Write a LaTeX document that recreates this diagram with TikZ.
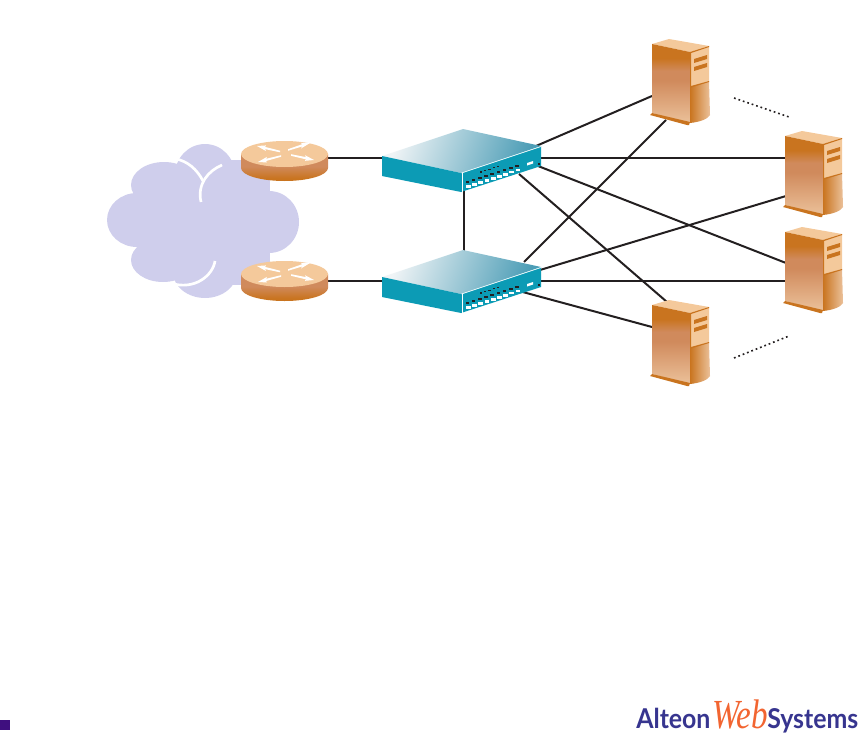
\documentclass[tikz,border=0pt]{standalone}
\usepackage{fontspec}
\setmainfont{Lato}
\newfontfamily\webfont{Liberation Serif}
\definecolor{teal1}{HTML}{0C9BB5}
\definecolor{tealdark}{HTML}{4C9DB6}
\definecolor{paleface}{HTML}{F0F4F6}
\definecolor{cloudc}{HTML}{CFCEEC}
\definecolor{orangeD}{HTML}{C9741F}
\definecolor{orangeM}{HTML}{D08A5C}
\definecolor{orangeL}{HTML}{F4C99B}
\definecolor{orangeP}{HTML}{EBC19A}
\definecolor{linec}{HTML}{231F20}
\definecolor{logoblue}{HTML}{37358F}
\definecolor{logored}{HTML}{F26531}
\definecolor{sqc}{HTML}{3F0F7F}
\pgfdeclareverticalshading{srvshade}{100bp}{color(0bp)=(orangeP); color(25bp)=(orangeP); color(52bp)=(orangeM); color(58bp)=(orangeM); color(66bp)=(orangeD); color(100bp)=(orangeD)}
\pgfdeclareverticalshading{rtrshade}{100bp}{color(0bp)=(orangeD); color(25bp)=(orangeD); color(30bp)=(orangeD); color(52bp)=(orangeM); color(100bp)=(orangeM)}
\tikzset{
  link/.style={draw=linec,line width=1.5pt},
  dots/.style={draw=linec,line width=1.2pt,dash pattern=on 1.3pt off 2.2pt},
  cloudlobe/.style={fill=cloudc,draw=none},
  cloudline/.style={draw=white,line width=2pt,line cap=butt},
  logotext/.style={inner sep=0pt,anchor=base west,text=logoblue,font=\fontsize{20.5}{20}\selectfont\bfseries},
}
\newcommand{\switchart}[1]{%
 \begin{scope}[shift={(0,#1)}]
  \shade[left color=paleface,right color=tealdark,shading angle=70]
     (382,156) -- (463,129) -- (541,146) -- (461,173) -- cycle;
  \fill[teal1] (382,156) -- (461,173) -- (461,192) -- (382,176) -- cycle;
  \fill[teal1] (461,173) -- (541,146) -- (541,166) -- (461,192) -- cycle;
  \draw[white,line width=.5pt] (461.5,173) -- (541,146.5);
  \draw[white,line width=.5pt] (462,173) -- (462,192);
  \foreach \i in {0,...,8}{
    \fill[white] ({466+6.2*\i},{187.8-2.05*\i}) rectangle +(4.8,-2.8);
    \fill[linec] ({465.5+6.2*\i},{183.4-2.05*\i}) rectangle +(3.6,-2.2);
  }
  \foreach \i in {0,...,4}{
    \fill[linec] ({480+4.2*\i},{172.5-1.4*\i}) rectangle +(2.2,-1.2);
  }
  \fill[white] (527,165.5) -- (533,163.5) -- (533,161) -- (527,163) -- cycle;
  \fill[linec] (538,165.2) rectangle +(2.4,-2.4);
 \end{scope}}
\newcommand{\serverart}[2]{%
 \begin{scope}[shift={(#1,#2)}]
  \fill[orangeL] (652,44) -- (669,39) -- (709,46) -- (690,52) -- cycle;
  \shade[shading=srvshade] (652,44) -- (690,52) -- (690,123) -- (652,113) -- cycle;
  \fill[orangeD] (650,115) -- (652,113) -- (690,122) -- (689,125) -- (687,125) -- cycle;
  \shade[left color=orangeD,right color=orangeP] (690,87) -- (709,81) -- (710,115) .. controls (708,119) and (700,122) .. (690,123) -- cycle;
  \fill[orangeL] (690,52) -- (709,46) -- (709,81) -- (690,87) -- cycle;
  \fill[orangeD] (690,52) -- (709,46) -- (709,47) -- (691,53) -- (691,87) -- (690,87) -- cycle;
  \fill[orangeD] (691,86) -- (709,81) -- (709,82) -- (691,87.5) -- cycle;
  \fill[orangeD] (694,59) -- (707,55) -- (707,59) -- (694,63) -- cycle;
  \fill[orangeD] (694,67) -- (707,63) -- (707,67) -- (694,71) -- cycle;
 \end{scope}}
\newcommand{\routerart}[1]{%
 \begin{scope}[shift={(0,#1)}]
  \shade[shading=rtrshade] (241,154) -- (241,168) arc[start angle=180,end angle=0,x radius=43.5,y radius=13] -- (328,154) -- cycle;
  \fill[orangeL] (284.5,154) ellipse[x radius=43.5,y radius=13];
  \foreach \hx/\hy/\tx/\ty/\ax/\ay in {
    257/146/280/151.5/1/0.25,
    310/143/288/150/-1/0.3,
    258/162/281/156/1/-0.26,
    314/160/291/155/-1/-0.22}{
    \fill[white] (\hx,\hy) -- ({\hx+\ax*9},{\hy+\ay*9-2.8}) -- ({\hx+\ax*8},{\hy+\ay*8-1.1})
      -- (\tx,{\ty-.8}) -- (\tx,{\ty+.8}) -- ({\hx+\ax*8},{\hy+\ay*8+1.1}) -- ({\hx+\ax*9},{\hy+\ay*9+2.8}) -- cycle;
  }
 \end{scope}}
\begin{document}
\begin{tikzpicture}[x=.75pt,y=-.75pt]
\useasboundingbox (0,0) rectangle (859,735);
% named device anchors
\coordinate (r1) at (328,158);
\coordinate (r2) at (328,281);
\coordinate (s1l) at (382,158);
\coordinate (s2l) at (382,281);
\coordinate (s1b) at (464,190);
\coordinate (s2t) at (464,252);
\coordinate (s1a) at (536,146);
\coordinate (s1c) at (540,158);
\coordinate (s1d) at (538,166);
\coordinate (s1e) at (519,174);
\coordinate (s2a) at (524,262);
\coordinate (s2c) at (540,270);
\coordinate (s2d) at (540,281);
\coordinate (s2e) at (519,291);
\coordinate (h1a) at (652,96);
\coordinate (h1b) at (666,120);
\coordinate (h2a) at (786,158);
\coordinate (h2b) at (786,196);
\coordinate (h3a) at (786,263);
\coordinate (h3b) at (786,281);
\coordinate (h4a) at (667,302);
\coordinate (h4b) at (652,327);
\coordinate (d1a) at (734,98);
\coordinate (d1b) at (789,117);
\coordinate (d2a) at (734,358);
\coordinate (d2b) at (789,336);
% cloud
\begin{scope}
 \fill[cloudlobe] (205,175) ellipse[x radius=30,y radius=31];
 \fill[cloudlobe] (164,185) ellipse[x radius=33,y radius=23];
 \fill[cloudlobe] (137,220) ellipse[x radius=30,y radius=27];
 \fill[cloudlobe] (163,260) ellipse[x radius=32,y radius=22];
 \fill[cloudlobe] (205,272) ellipse[x radius=32,y radius=26];
 \fill[cloudlobe] (269,222) ellipse[x radius=30,y radius=31];
 \fill[cloudlobe] (150,190) rectangle (265,265);
 \fill[cloudlobe] (222,160) rectangle (270,285);
\end{scope}
\draw[cloudline] (176,159) .. controls (187,161) and (197,169) .. (203,181);
\draw[cloudline] (222,165) .. controls (208,171) and (197,184) .. (201,202);
\draw[cloudline] (215,261) .. controls (213,275) and (195,291) .. (170,283);
% connectors
\draw[link] (r1) -- (s1l);
\draw[link] (r2) -- (s2l);
\draw[link] (s1b) -- (s2t);
\draw[link] (s1a) -- (h1a);
\draw[link] (s1c) -- (h2a);
\draw[link] (s1d) -- (h3a);
\draw[link] (s1e) -- (h4a);
\draw[link] (s2a) -- (h1b);
\draw[link] (s2c) -- (h2b);
\draw[link] (s2d) -- (h3b);
\draw[link] (s2e) -- (h4b);
\draw[dots] (d1a) -- (d1b);
\draw[dots] (d2a) -- (d2b);
% devices
\routerart{0}
\routerart{120}
\switchart{0}
\switchart{121}
\serverart{0}{0}
\serverart{133}{92}
\serverart{133}{188}
\serverart{0}{261}
% footer
\fill[sqc] (0,720) rectangle (10,730);
\node[logotext] (alteon) at (636,728) {\scalebox{.91}[1]{Alteon}};
\node[logotext,text=logored,anchor=base west,font=\fontsize{31}{31}\selectfont\webfont\itshape] (web) at (712,728) {\scalebox{.8}[1]{Web}};
\node[logotext] (systems) at (767,728) {\scalebox{.91}[1]{Systems}};
\end{tikzpicture}
\end{document}
